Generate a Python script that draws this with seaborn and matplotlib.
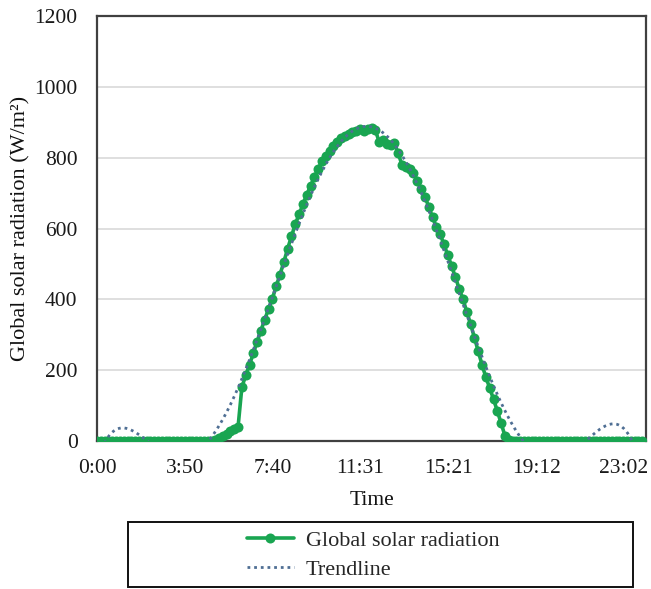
import numpy as np
import pandas as pd
import matplotlib
matplotlib.use("Agg")
import matplotlib.pyplot as plt
from matplotlib.patches import Rectangle
import seaborn as sns

# ---- data (10-minute samples, minutes after midnight) ----
minutes = list(range(0, 1440, 10))
radiation = (
    [0] * 31 +                                   # 0:00 - 5:00
    [4, 9, 15, 21, 27, 33, 40,                   # 5:10 - 6:10
     152, 185, 215, 248, 280, 312, 343, 373, 402, 437,
     470, 505, 543, 578, 612, 640, 668, 695, 720, 745,
     768, 790, 805, 818, 832, 845, 855, 862, 868, 872,
     876, 880, 876, 880, 885, 878, 845, 850, 838, 835,
     842, 812, 780, 775, 768, 758, 735, 712, 690, 662,
     632, 605, 585, 555, 525, 495, 462, 430, 400, 365,
     330, 292, 255, 215, 180, 150, 118, 85, 50, 15, 3] +
    [0] * 35                                     # 18:10 - 23:50
)
tick_minutes = [0, 230.4, 460.8, 691.2, 921.6, 1152.0, 1382.4]
tick_labels = ["0:00", "3:50", "7:40", "11:31", "15:21", "19:12", "23:02"]
y_ticks = [0, 200, 400, 600, 800, 1000, 1200]

df = pd.DataFrame({"t": minutes, "v": radiation})

# 6th-order polynomial trendline (as in a spreadsheet trendline)
xd = np.array(minutes) / 1440.0
coef = np.polyfit(xd, np.array(radiation, dtype=float), 6)
xt = np.linspace(0, 1440, 600)
trend = pd.DataFrame({"t": xt, "v": np.polyval(coef, xt / 1440.0)})

sns.set_style("white")
plt.rcParams["font.family"] = ["Liberation Serif", "DejaVu Serif"]

fig = plt.figure(figsize=(6.51, 5.89), dpi=100)
ax = fig.add_axes([97 / 651, 1 - 441 / 589, (646 - 97) / 651, (441 - 16) / 589])

green = "#19a551"
sns.lineplot(data=df, x="t", y="v", ax=ax, color=green, linewidth=2.6,
             marker="o", markersize=7.2, markeredgewidth=0,
             label="Global solar radiation", zorder=3)
sns.lineplot(data=trend, x="t", y="v", ax=ax, color="#4f6f94", linewidth=2.0,
             linestyle=(0, (1, 1.4)), label="Trendline", zorder=4)

ax.set_xlim(0, 1440)
ax.set_ylim(0, 1200)
ax.set_yticks(y_ticks)
ax.set_yticklabels([str(v) for v in y_ticks])
ax.set_xticks(tick_minutes)
ax.set_xticklabels(tick_labels)
ax.set_xticks([115.2 + 230.4 * k for k in range(6)], minor=True)
ax.grid(axis="y", color="#d9d9d9", linewidth=1.2)
ax.set_axisbelow(True)

for s in ax.spines.values():
    s.set_color("#404040")
    s.set_linewidth(1.6)

ax.tick_params(axis="both", which="both", direction="out", length=5, width=1.5,
               color="#404040", labelsize=15.5, labelcolor="#1a1a1a")
ax.tick_params(axis="y", which="major", pad=9)
ax.tick_params(axis="x", which="major", pad=8)

ax.set_xlabel("Time", fontsize=15.5, labelpad=9, color="#111111")
ax.set_ylabel("Global solar radiation (W/m²)", fontsize=16, labelpad=3, color="#111111")

# legend below the plot inside a wide framed box
h, l = ax.get_legend_handles_labels()
ax.get_legend().remove()
fig.patches.append(Rectangle((128 / 651, 1 - 587 / 589), (633 - 128) / 651, (587 - 522) / 589,
                             transform=fig.transFigure, fill=False,
                             edgecolor="#111111", linewidth=1.4))
fig.legend(h, l, loc="center left", bbox_to_anchor=(236 / 651, 1 - 555 / 589),
           frameon=False, fontsize=16, handlelength=2.1, handletextpad=0.55,
           labelspacing=0.4, borderpad=0)

fig.savefig("out.png", dpi=100)
